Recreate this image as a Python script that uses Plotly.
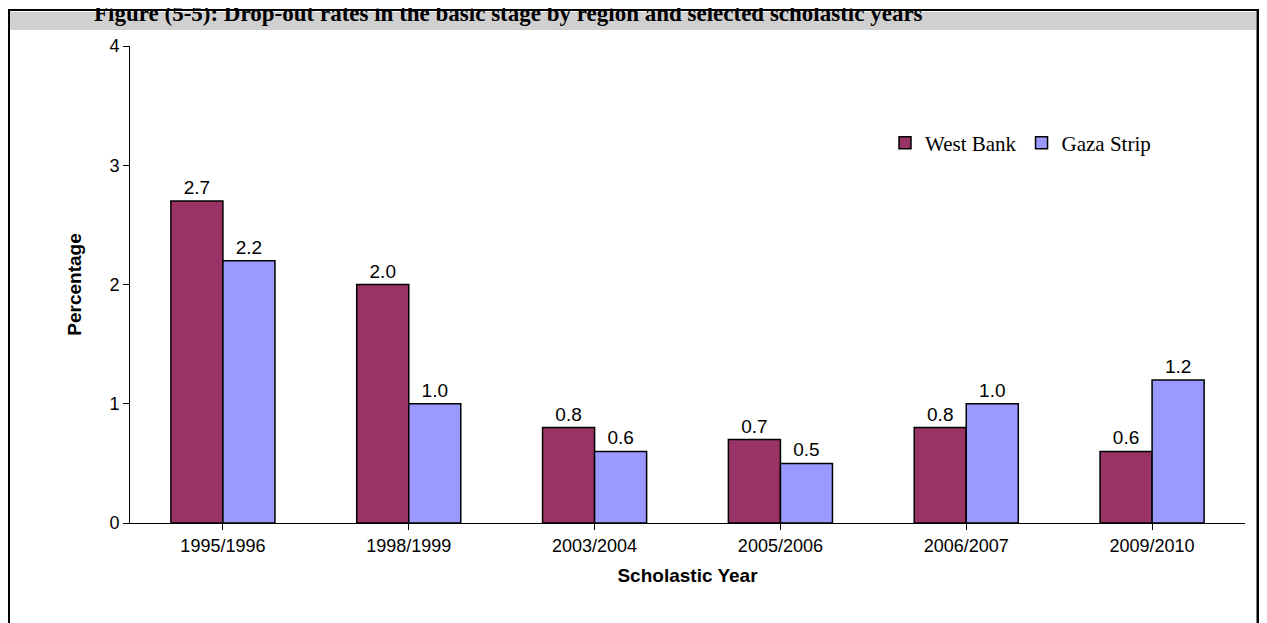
import plotly.graph_objects as go

years = ["1995/1996", "1998/1999", "2003/2004", "2005/2006", "2006/2007", "2009/2010"]
west_bank = [2.7, 2.0, 0.8, 0.7, 0.8, 0.6]
gaza_strip = [2.2, 1.0, 0.6, 0.5, 1.0, 1.2]

OFF = 8  # page body margin
W, H = 1267 - OFF, 623 - OFF
L, R, T, B = 130 - OFF, 1267 - 1245, 46 - OFF, 623 - 523
pw, ph = W - L - R, H - T - B
def px(x): return (x - OFF - L) / pw
def py(y): return (H - B - (y - OFF)) / ph

fig = go.Figure()
for name, vals, col in [("West Bank", west_bank, "#993366"), ("Gaza Strip", gaza_strip, "#9999FF")]:
    fig.add_bar(x=years, y=vals, name=name, marker=dict(color=col, line=dict(color="black", width=1.5)),
                text=[f"{v:.1f}" for v in vals], textposition="outside",
                textfont=dict(family="Liberation Sans, Arial", size=19, color="black"), cliponaxis=False)

fig.update_layout(
    width=W, height=H, margin=dict(l=L, r=R, t=T, b=B),
    paper_bgcolor="white", plot_bgcolor="white",
    barmode="group", bargap=0.44, bargroupgap=0,
    font=dict(family="Liberation Sans, Arial", size=18, color="black"),
    legend=dict(orientation="h", x=px(885), y=py(143), yanchor="middle", xanchor="left",
                font=dict(family="Liberation Serif, Times New Roman", size=21), bgcolor="rgba(0,0,0,0)",
                itemwidth=30, tracegroupgap=0),
    xaxis=dict(showline=True, linecolor="black", linewidth=1, ticks="outside", ticklen=6,
               tickcolor="black", title=dict(text="<b>Scholastic Year</b>", font=dict(size=19), standoff=14)),
    yaxis=dict(range=[0, 4], dtick=1, showline=True, linecolor="black", linewidth=1, ticks="outside",
               ticklen=6, tickcolor="black", showgrid=False, zeroline=False,
               title=dict(text="<b>Percentage</b>", font=dict(size=19), standoff=22)),
    shapes=[
        dict(type="rect", xref="paper", yref="paper", x0=px(9), x1=px(1256), y0=py(30), y1=py(12),
             line=dict(width=0), fillcolor="#d0d0d0", layer="below"),
        dict(type="line", xref="paper", yref="paper", x0=px(8), x1=px(1267), y0=py(10), y1=py(10),
             line=dict(color="black", width=2)),
        dict(type="line", xref="paper", yref="paper", x0=px(9), x1=px(9), y0=py(10), y1=py(623),
             line=dict(color="black", width=2)),
        dict(type="line", xref="paper", yref="paper", x0=px(1258), x1=px(1258), y0=py(10), y1=py(623),
             line=dict(color="black", width=3)),
    ],
    annotations=[dict(text="<b>Figure (5-5): Drop-out rates in the basic stage by region and selected scholastic years</b>",
                      xref="paper", yref="paper", x=px(92), y=py(14), xanchor="left", yanchor="middle",
                      showarrow=False, font=dict(family="Liberation Serif, Times New Roman", size=23))],
)
fig.write_html("out.html")
